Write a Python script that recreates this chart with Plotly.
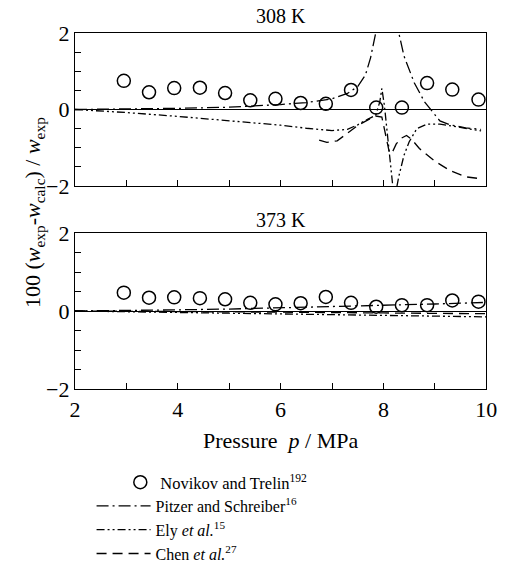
import plotly.graph_objects as go

# ---- data ----
p_exp = [2.95, 3.44, 3.93, 4.43, 4.92, 5.41, 5.90, 6.39, 6.88, 7.37, 7.86, 8.36, 8.85, 9.34, 9.85]
dev_308 = [0.75, 0.45, 0.56, 0.57, 0.43, 0.24, 0.28, 0.17, 0.15, 0.51, 0.05, 0.05, 0.69, 0.52, 0.26]
dev_373 = [0.47, 0.34, 0.35, 0.33, 0.30, 0.21, 0.17, 0.20, 0.36, 0.21, 0.11, 0.15, 0.15, 0.27, 0.24]

pitzer_308_p = [2.0, 3.0, 4.0, 5.0, 5.5, 6.0, 6.5, 7.0, 7.3, 7.5, 7.65, 7.75, 7.85, 7.95, 8.1, 8.2, 8.3, 8.4, 8.6, 8.8, 8.92, 9.1, 9.3, 9.6, 9.9]
pitzer_308_v = [0.0, 0.01, 0.03, 0.06, 0.09, 0.13, 0.18, 0.28, 0.42, 0.60, 0.90, 1.35, 2.00, 3.0, 4.0, 3.0, 2.0, 1.40, 0.70, 0.20, 0.0, -0.30, -0.40, -0.48, -0.52]

ely_308_p = [2.0, 3.0, 4.0, 5.0, 6.0, 6.5, 7.0, 7.3, 7.5, 7.7, 7.85, 7.93, 7.97, 8.02, 8.08, 8.14, 8.19, 8.25, 8.30, 8.40, 8.50, 8.65, 8.85, 9.1, 9.4, 9.7, 9.9]
ely_308_v = [0.0, -0.08, -0.18, -0.29, -0.41, -0.49, -0.55, -0.52, -0.40, -0.25, -0.15, 0.20, 0.55, 0.10, -0.70, -1.50, -2.10, -2.10, -1.75, -1.20, -0.85, -0.50, -0.38, -0.38, -0.45, -0.53, -0.56]

chen_308_p = [6.75, 6.9, 7.1, 7.3, 7.5, 7.7, 7.85, 7.97, 8.05, 8.12, 8.18, 8.25, 8.35, 8.45, 8.55, 8.7, 9.0, 9.3, 9.6, 9.9]
chen_308_v = [-0.80, -0.86, -0.82, -0.62, -0.42, -0.27, -0.17, -0.20, -0.70, -1.15, -1.10, -0.90, -0.75, -0.68, -0.78, -1.02, -1.35, -1.60, -1.76, -1.81]

pitzer_373_p = [2, 3, 4, 5, 6, 7, 8, 9, 10]
pitzer_373_v = [0.0, 0.01, 0.03, 0.05, 0.08, 0.11, 0.14, 0.18, 0.22]
ely_373_p = [2, 3, 4, 5, 6, 7, 8, 9, 10]
ely_373_v = [0.0, -0.02, -0.03, -0.05, -0.07, -0.09, -0.11, -0.13, -0.15]
chen_373_p = [2, 4, 6, 8, 10]
chen_373_v = [0.0, -0.01, -0.03, -0.05, -0.07]

x_ticks = [2, 4, 6, 8, 10]
y_ticks = [-2, 0, 2]

FONT = "Liberation Serif, Times New Roman, DejaVu Serif, serif"
DASH_PITZER = "12px,4px,2px,4px"
DASH_ELY = "8px,3px,2px,3px,2px,3px"
DASH_CHEN = "10px,6px"

fig = go.Figure()

def add_panel(xa, ya, dev, pz, ely, chen, show):
    fig.add_trace(go.Scatter(x=p_exp, y=dev, mode="markers", xaxis=xa, yaxis=ya,
                             marker=dict(symbol="circle-open", size=13, color="black", line=dict(width=1.5, color="black")),
                             name="Novikov and Trelin<sup>192</sup>", showlegend=show, legend="legend2", cliponaxis=True))
    fig.add_trace(go.Scatter(x=pz[0], y=pz[1], mode="lines", xaxis=xa, yaxis=ya,
                             line=dict(color="black", width=1.3, dash=DASH_PITZER),
                             name="Pitzer and Schreiber<sup>16</sup>", showlegend=show))
    fig.add_trace(go.Scatter(x=ely[0], y=ely[1], mode="lines", xaxis=xa, yaxis=ya,
                             line=dict(color="black", width=1.3, dash=DASH_ELY),
                             name="Ely <i>et al.</i><sup>15</sup>", showlegend=show))
    fig.add_trace(go.Scatter(x=chen[0], y=chen[1], mode="lines", xaxis=xa, yaxis=ya,
                             line=dict(color="black", width=1.3, dash=DASH_CHEN),
                             name="Chen <i>et al.</i><sup>27</sup>", showlegend=show))

add_panel("x", "y", dev_308, (pitzer_308_p, pitzer_308_v), (ely_308_p, ely_308_v), (chen_308_p, chen_308_v), True)
add_panel("x2", "y2", dev_373, (pitzer_373_p, pitzer_373_v), (ely_373_p, ely_373_v), (chen_373_p, chen_373_v), False)

W, H = 505, 571
ML, MT, MB = 75, 33, 182
PW = W - ML            # paper width (right margin 0)
PH = H - MT - MB       # paper height
x_end = (497 - ML) / PW

axis_common = dict(showline=True, linecolor="black", linewidth=1.3, mirror=True, showgrid=False,
                   ticks="inside", ticklen=6, tickcolor="black", tickwidth=1.2,
                   tickfont=dict(family=FONT, size=22, color="black"))
xaxis_common = dict(axis_common, range=[2, 10], tickvals=x_ticks, zeroline=False, ticklabeloverflow="allow",
                    domain=[0, x_end],
                    minor=dict(dtick=1, ticks="inside", ticklen=6, tickcolor="black", tickwidth=1.2))
yaxis_common = dict(axis_common, range=[-2, 2], tickvals=y_ticks, zeroline=True, zerolinecolor="black", zerolinewidth=1.3,
                    minor=dict(dtick=0.5, ticks="inside", ticklen=6, tickcolor="black", tickwidth=1.2))

def px_x(px):
    return (px - ML) / PW

def px_y(py):
    return (H - MB - py) / PH

fig.update_layout(
    width=W, height=H,
    margin=dict(l=ML, r=0, t=MT, b=MB),
    paper_bgcolor="white", plot_bgcolor="white",
    font=dict(family=FONT, color="black"),
    xaxis=dict(xaxis_common, anchor="y", showticklabels=False),
    yaxis=dict(yaxis_common, domain=[px_y(186), 1.0], anchor="x"),
    xaxis2=dict(xaxis_common, anchor="y2", ticklabelstandoff=0),
    yaxis2=dict(yaxis_common, domain=[0.0, px_y(233)], anchor="x2"),
    legend=dict(x=px_x(92), y=px_y(571), xanchor="left", yanchor="bottom",
                bgcolor="rgba(0,0,0,0)", font=dict(family=FONT, size=16, color="black"),
                itemwidth=54, tracegroupgap=0),
    legend2=dict(x=px_x(121.5), y=px_y(465), xanchor="left", yanchor="top",
                 bgcolor="rgba(0,0,0,0)", font=dict(family=FONT, size=16.5, color="black"),
                 itemwidth=30, tracegroupgap=0),
    showlegend=True,
    annotations=[
        dict(text="308 K", x=px_x(286), y=1.0, xref="paper", yref="paper", xanchor="center", yanchor="bottom", yshift=4,
             showarrow=False, font=dict(family=FONT, size=20)),
        dict(text="373 K", x=px_x(286), y=px_y(233), xref="paper", yref="paper", xanchor="center", yanchor="bottom",
             showarrow=False, font=dict(family=FONT, size=20)),
        dict(text="Pressure  <i>p</i> / MPa", x=px_x(286), y=px_y(426), xref="paper", yref="paper", xanchor="center", yanchor="top",
             showarrow=False, font=dict(family=FONT, size=22)),
        dict(text="100 (<i>w</i><sub>exp</sub>-<i>w</i><sub>calc</sub>) / <i>w</i><sub>exp</sub>", x=px_x(33), y=px_y(213),
             xref="paper", yref="paper", xanchor="center", yanchor="middle", textangle=-90,
             showarrow=False, font=dict(family=FONT, size=22)),
    ],
)

fig.write_html("out.html")
